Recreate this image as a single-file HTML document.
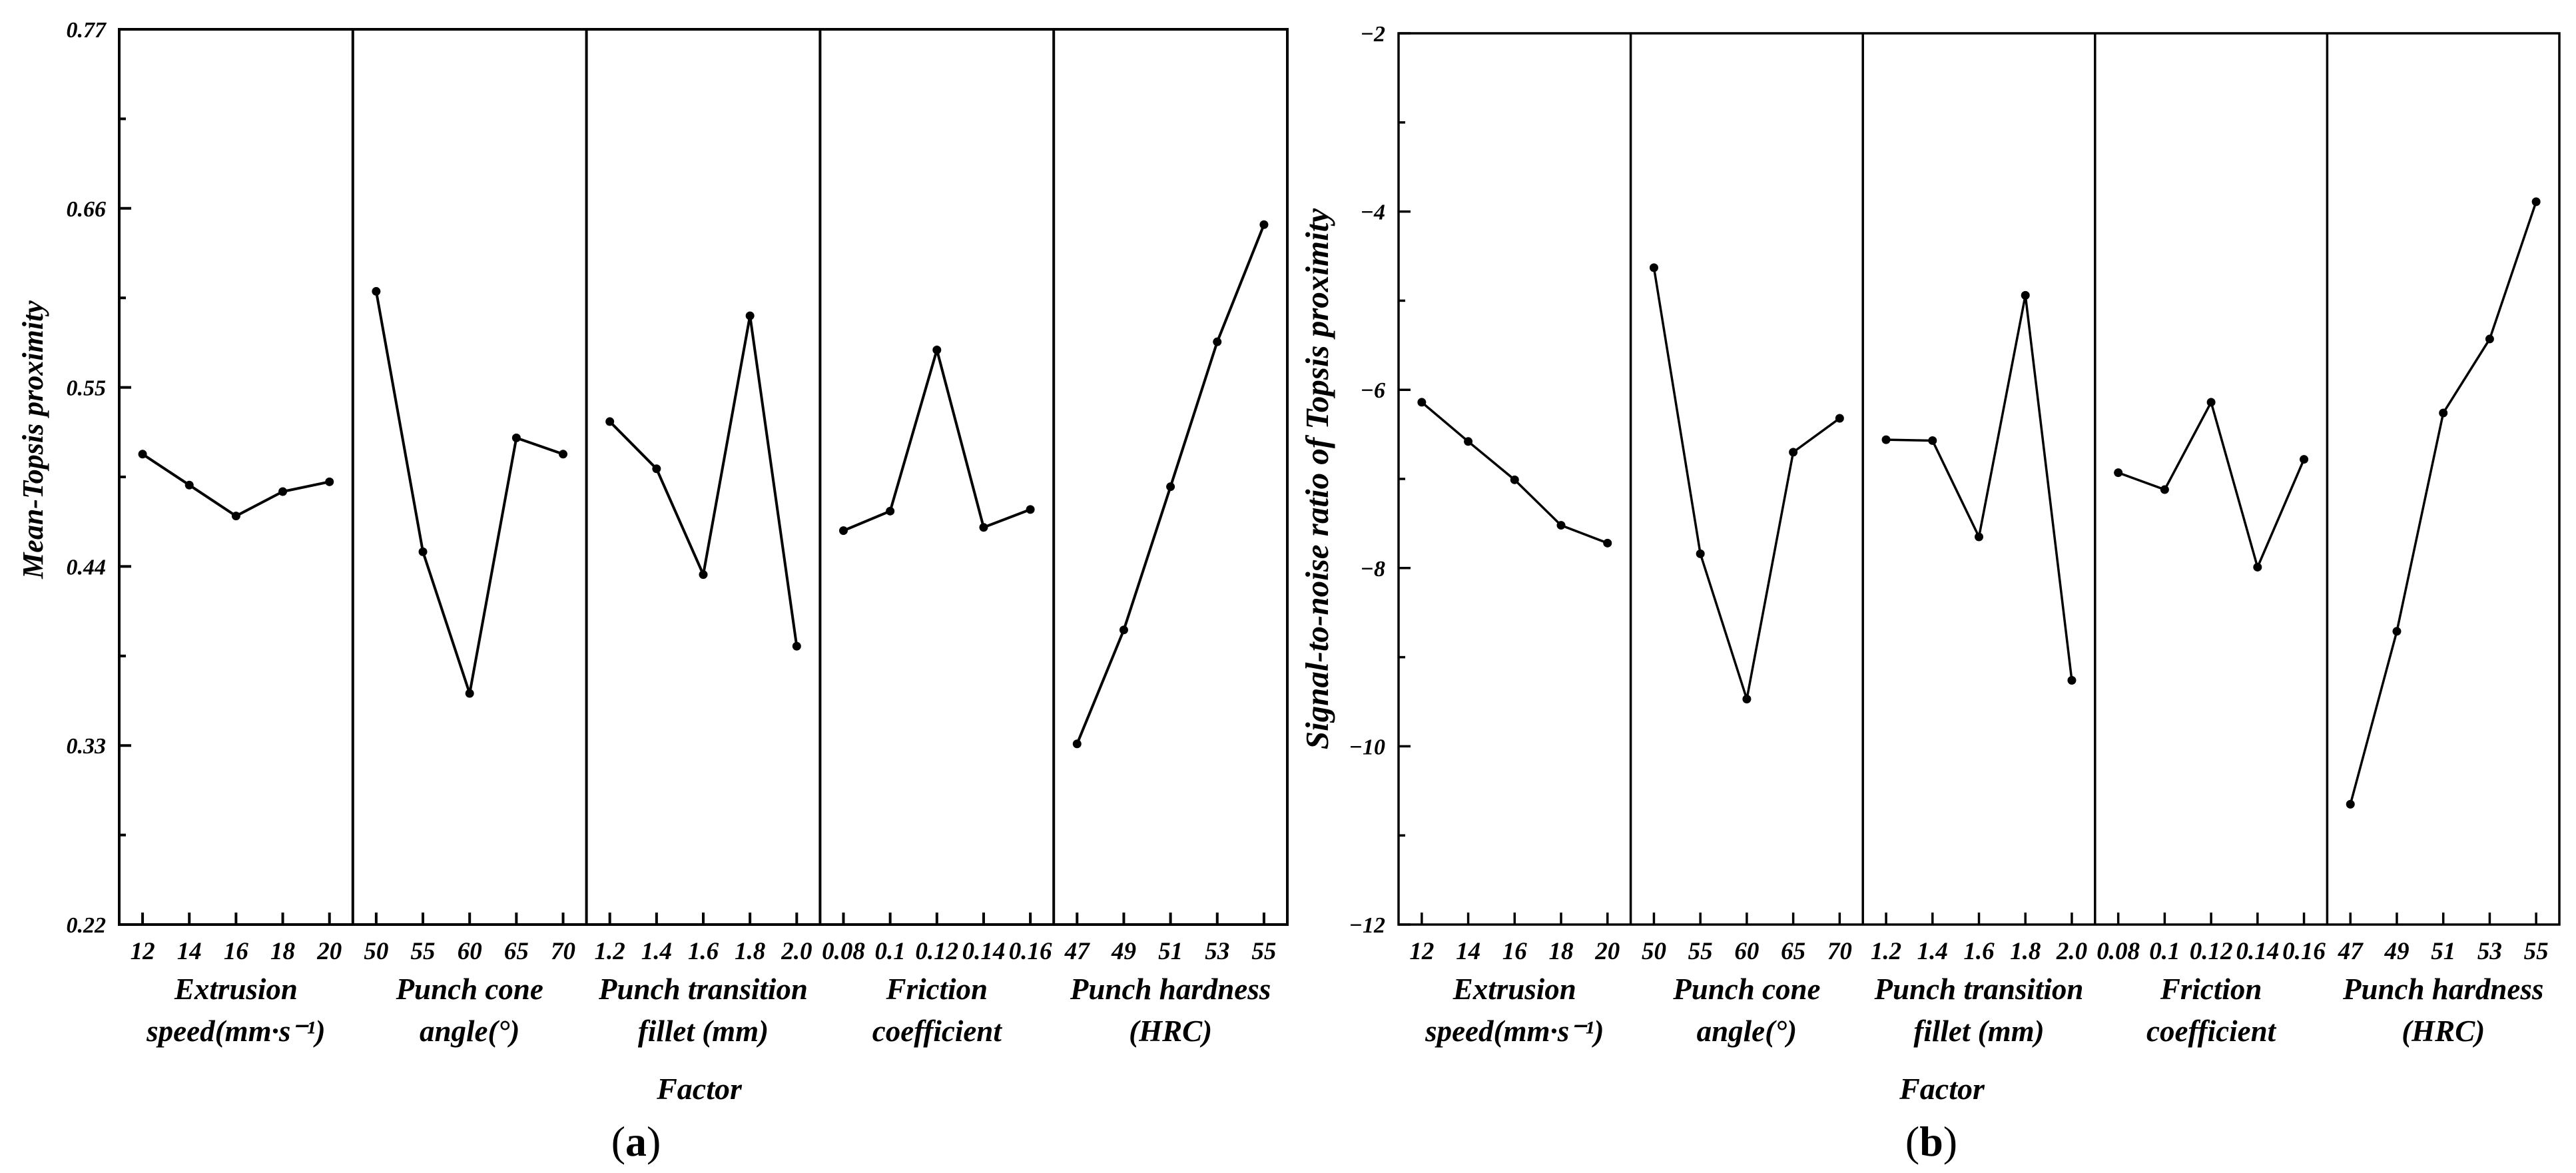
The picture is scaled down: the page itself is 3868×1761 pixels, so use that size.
<!DOCTYPE html>
<html><head><meta charset="utf-8"><style>
html,body{margin:0;padding:0;background:#fff;}
svg{display:block;}
text{font-family:"Liberation Serif",serif;fill:#000;}
</style></head><body>
<svg id="s" width="3868" height="1761" viewBox="0 0 3868 1761" xmlns="http://www.w3.org/2000/svg"></svg>
<script>
const factorLines = [["Extrusion","speed(mm·s⁻¹)"],["Punch cone","angle(°)"],["Punch transition","fillet (mm)"],["Friction","coefficient"],["Punch hardness","(HRC)"]];
const levelLabels = [["12","14","16","18","20"],["50","55","60","65","70"],["1.2","1.4","1.6","1.8","2.0"],["0.08","0.1","0.12","0.14","0.16"],["47","49","51","53","55"]];
const meanValues = [[0.509,0.490,0.471,0.486,0.492],[0.609,0.449,0.362,0.519,0.509],[0.529,0.500,0.435,0.594,0.391],[0.462,0.474,0.573,0.464,0.475],[0.331,0.401,0.489,0.578,0.650]];
const snValues = [[-6.14,-6.58,-7.01,-7.52,-7.72],[-4.63,-7.84,-9.47,-6.70,-6.32],[-6.56,-6.57,-7.65,-4.94,-9.26],[-6.93,-7.12,-6.14,-7.99,-6.78],[-10.65,-8.71,-6.26,-5.43,-3.89]];
const meanTicks = [0.22,0.33,0.44,0.55,0.66,0.77];
const meanTickLabels = ["0.22","0.33","0.44","0.55","0.66","0.77"];
const snTicks = [-12,-10,-8,-6,-4,-2];
const snTickLabels = ["−12","−10","−8","−6","−4","−2"];

const NS="http://www.w3.org/2000/svg";
const svg=document.getElementById('s');
function el(tag,attrs,parent){const e=document.createElementNS(NS,tag);for(const k in attrs)e.setAttribute(k,attrs[k]);(parent||svg).appendChild(e);return e;}

function chart(cfg){
  const g=el('g',{});
  
  
  const L=cfg.x0,R=cfg.x1,T=cfg.y0,B=cfg.y1,sw=cfg.sw;
  const yMin=cfg.ticks[0],yMax=cfg.ticks[cfg.ticks.length-1];
  const ys=v=>B-(v-yMin)/(yMax-yMin)*(B-T);
  const pw=(R-L)/5;
  const xs=(p,i)=>L+p*pw+pw*0.1+i*pw*0.2;
  const fr=el('rect',{x:L,y:T,width:R-L,height:B-T,fill:'none',stroke:'#000','stroke-width':sw},g);
  
  
  for(let p=1;p<5;p++){
    const d=el('line',{x1:L+p*pw,x2:L+p*pw,y1:T,y2:B,stroke:'#000','stroke-width':sw},g);
    
    
  }
  for(let i=0;i<cfg.ticks.length;i++){
    const y=ys(cfg.ticks[i]);
    el('line',{x1:L,x2:L+18,y1:y,y2:y,stroke:'#000','stroke-width':sw},g);
    if(i<cfg.ticks.length-1){const ym=ys((cfg.ticks[i]+cfg.ticks[i+1])/2);el('line',{x1:L,x2:L+10,y1:ym,y2:ym,stroke:'#000','stroke-width':sw},g);}
    const t=el('text',{x:L-20,y:y+12,'text-anchor':'end','font-size':34,'font-weight':'bold','font-style':'italic'},g);
    t.textContent=cfg.tickLabels[i];
    
    
  }
  const yt=el('text',{x:0,y:0,'text-anchor':'middle','font-size':cfg.ytfs,'font-weight':'bold','font-style':'italic',transform:`translate(${cfg.ytx},${cfg.yty}) rotate(-90)`},g);
  yt.textContent=cfg.ytitle;
  
  
  for(let p=0;p<5;p++){
    for(let i=0;i<5;i++){
      const x=xs(p,i);
      el('line',{x1:x,x2:x,y1:B,y2:B-18,stroke:'#000','stroke-width':sw},g);
      const t=el('text',{x:x,y:1440,'text-anchor':'middle','font-size':37,'font-weight':'bold','font-style':'italic'},g);
      t.textContent=levelLabels[p][i];
      
      
    }
    const cx=L+p*pw+pw/2;
    for(let k=0;k<2;k++){
      const t=el('text',{x:cx,y:1500+k*63,'text-anchor':'middle','font-size':45,'font-weight':'bold','font-style':'italic'},g);
      t.textContent=factorLines[p][k];
      
      
    }
    const vals=cfg.values[p];
    const pts=vals.map((v,i)=>xs(p,i)+','+ys(v)).join(' ');
    const pl=el('polyline',{points:pts,fill:'none',stroke:'#000','stroke-width':cfg.lw,'stroke-linejoin':'miter'},g);
    
    
    vals.forEach((v,i)=>{
      const c=el('circle',{cx:xs(p,i),cy:ys(v),r:6.5,fill:'#000'},g);
      
      
    });
  }
  const ft=el('text',{x:cfg.fx,y:1650,'text-anchor':'middle','font-size':46,'font-weight':'bold','font-style':'italic'},g);
  ft.textContent='Factor';
  
  
  const cap=el('text',{x:cfg.cx,y:1735,'text-anchor':'middle','font-size':64},g);
  cap.innerHTML='(<tspan font-weight="bold">'+cfg.cap+'</tspan>)';
  
  
}
chart({name:'mean-topsis-chart',x0:179,x1:1933,y0:44,y1:1388,sw:4,lw:4,ticks:meanTicks,tickLabels:meanTickLabels,values:meanValues,ytitle:'Mean-Topsis proximity',ytx:64,yty:660,ytfs:44,fx:1050,cx:955,cap:'a'});
chart({name:'sn-ratio-chart',x0:2100,x1:3843,y0:50,y1:1388,sw:3.5,lw:3.5,ticks:snTicks,tickLabels:snTickLabels,values:snValues,ytitle:'Signal-to-noise ratio of Topsis proximity',ytx:1994,yty:719,ytfs:49,fx:2916,cx:2900,cap:'b'});
</script>
</body></html>
